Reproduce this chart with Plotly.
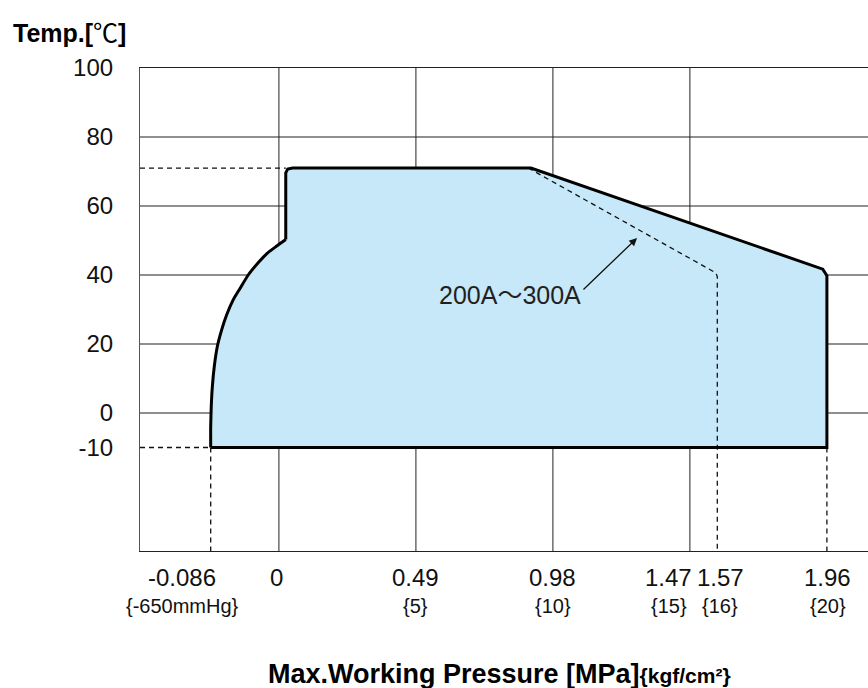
import plotly.graph_objects as go

# ---- data (x in kgf/cm2 units, y in degC) ----
curve_x = [-2.49, -2.49, -2.47, -2.43, -2.36, -2.25, -2.09, -1.91, -1.67, -1.42,
           -1.12, -0.75, -0.43, -0.08, 0.25]
curve_y = [-10, -4, 1.8, 7.6, 13.4, 19.2, 24.1, 28.4, 32.8, 36.1,
           40, 43.6, 46.3, 48.4, 50.3]

rest_x = [0.25, 0.25, 0.32, 0.5, 9.2, 19.5, 19.85, 20.0, 20.0, -2.49]
rest_y = [50.3, 69.6, 70.7, 71, 71, 42.8, 41.7, 39.8, -10, -10]

small_x = [9.1, 15.75, 15.95, 16.0, 16.0]
small_y = [71, 41.4, 40.6, 39.5, -40]

tick_vals = [-2.5, 0, 5, 10, 15, 16, 20]
tick_main = ["-0.086", "0", "0.49", "0.98", "1.47", "1.57", "1.96"]
tick_sub = ["{-650mmHg}", "", "{5}", "{10}", "{15}", "{16}", "{20}"]
label_shift = [-28, -2, 0, 0, -21, 3, 1]

y_ticks = [100, 80, 60, 40, 20, 0, -10]
h_grid = [0, 20, 40, 60, 80]
v_grid = [0, 5, 10, 15]

top_temp = 71
low_temp = -10
vac_x = -2.49
max_x = 20
step_x = 0.25

X_RANGE = [-5.07, 21.5]
Y_RANGE = [-40, 100]

FONT = "Liberation Sans, Arial, Noto Sans CJK JP"

fig = go.Figure()

# envelope fill (no outline)
fig.add_trace(go.Scatter(x=curve_x + rest_x[1:], y=curve_y + rest_y[1:], mode="lines",
                         fill="toself", fillcolor="#c6e8f8",
                         line=dict(color="rgba(0,0,0,0)", width=0),
                         hoverinfo="skip", showlegend=False))

dash = dict(color="#111", width=1.3, dash="5px,4px")
# 200A-300A limit
fig.add_trace(go.Scatter(x=small_x, y=small_y, mode="lines", line=dash,
                         hoverinfo="skip", showlegend=False))
# reference dashed lines
for xs, ys in [
    ([X_RANGE[0], step_x], [top_temp, top_temp]),
    ([X_RANGE[0], vac_x], [low_temp, low_temp]),
    ([vac_x, vac_x], [low_temp, Y_RANGE[0]]),
    ([max_x, max_x], [low_temp, Y_RANGE[0]]),
]:
    fig.add_trace(go.Scatter(x=xs, y=ys, mode="lines", line=dash,
                             hoverinfo="skip", showlegend=False))

# envelope outline
fig.add_trace(go.Scatter(x=curve_x, y=curve_y, mode="lines",
                         line=dict(color="#000", width=3, shape="spline", smoothing=0.5),
                         hoverinfo="skip", showlegend=False))
fig.add_trace(go.Scatter(x=rest_x, y=rest_y, mode="lines",
                         line=dict(color="#000", width=3),
                         hoverinfo="skip", showlegend=False))

shapes = []
for g in h_grid:
    shapes.append(dict(type="line", xref="paper", x0=0, x1=1, yref="y", y0=g, y1=g,
                       line=dict(color="#6a6a6a", width=1.5), layer="below"))
for g in v_grid:
    shapes.append(dict(type="line", xref="x", x0=g, x1=g, yref="paper", y0=0, y1=1,
                       line=dict(color="#222", width=1), layer="below"))

annotations = []
for v, m, s, sh in zip(tick_vals, tick_main, tick_sub, label_shift):
    annotations.append(dict(x=v, xref="x", y=0, yref="paper", text=m, showarrow=False,
                            xanchor="center", yanchor="middle", xshift=sh, yshift=-26,
                            font=dict(size=24, color="#111", family=FONT)))
    if s:
        annotations.append(dict(x=v, xref="x", y=0, yref="paper", text=s, showarrow=False,
                                xanchor="center", yanchor="middle", xshift=sh, yshift=-55,
                                font=dict(size=20, color="#111", family=FONT)))

annotations.append(dict(x=13.07, y=50.7, ax=11.06, ay=35.4, xref="x", yref="y",
                        axref="x", ayref="y", text="", showarrow=True, arrowhead=2,
                        arrowsize=1.2, arrowwidth=1.3, arrowcolor="#111", standoff=0))
annotations.append(dict(x=8.43, y=34.3, xref="x", yref="y", text="200A〜300A",
                        showarrow=False, xanchor="center", yanchor="middle",
                        font=dict(size=25, color="#231f20", family=FONT)))

annotations.append(dict(x=0, xref="paper", y=1, yref="paper", xanchor="left",
                        yanchor="middle", xshift=-129, yshift=35, showarrow=False,
                        text="<b>Temp.[</b>℃<b>]</b>",
                        font=dict(size=25, color="#000", family=FONT)))
annotations.append(dict(x=0.4945, xref="paper", y=0, yref="paper", xanchor="center",
                        yanchor="middle", yshift=-123, showarrow=False,
                        text="<b>Max.Working Pressure [MPa]<span style='font-size:21px'>{kgf/cm²}</span></b>",
                        font=dict(size=27, color="#000", family=FONT)))

fig.update_layout(
    width=868, height=688,
    margin=dict(l=140, r=0, t=68, b=137),
    paper_bgcolor="white", plot_bgcolor="white",
    shapes=shapes, annotations=annotations,
    xaxis=dict(range=X_RANGE, showgrid=False, zeroline=False, showline=True,
               linecolor="#222", linewidth=1.2, mirror=True, showticklabels=False,
               ticks=""),
    yaxis=dict(range=Y_RANGE, showgrid=False, zeroline=False, showline=True,
               linecolor="#555", linewidth=1.2, tickvals=y_ticks,
               ticktext=[str(t) for t in y_ticks], ticks="", ticklabelstandoff=21,
               tickfont=dict(size=24, color="#111", family=FONT)),
    font=dict(family=FONT),
)

fig.write_html("out.html", config={"displayModeBar": False},
               post_script="document.body.style.margin='0';document.body.style.overflow='hidden';")
